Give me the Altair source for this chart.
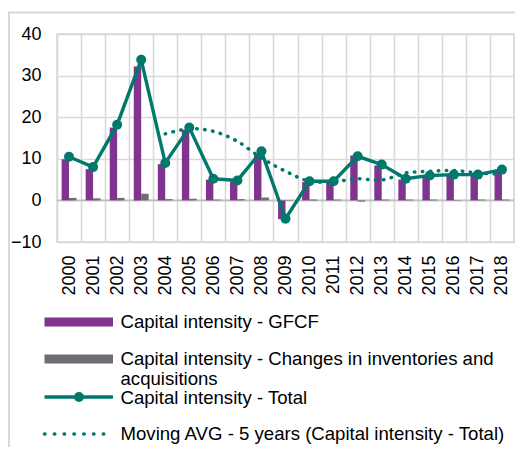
import altair as alt
import pandas as pd

years = ["2000", "2001", "2002", "2003", "2004", "2005", "2006", "2007", "2008", "2009",
         "2010", "2011", "2012", "2013", "2014", "2015", "2016", "2017", "2018"]
gfcf = [9.9, 7.5, 17.5, 32.2, 8.7, 17.0, 5.0, 4.5, 11.1, -4.5,
        4.4, 4.4, 10.8, 8.4, 5.0, 5.8, 6.2, 6.0, 7.2]
changes = [0.6, 0.5, 0.6, 1.6, 0.3, 0.4, 0.2, 0.3, 0.7, 0.1,
           0.2, 0.2, -0.3, 0.2, 0.2, 0.2, -0.1, 0.2, 0.2]
total = [10.5, 8.0, 18.2, 33.8, 9.0, 17.5, 5.2, 4.8, 11.8, -4.4,
         4.6, 4.6, 10.6, 8.6, 5.2, 6.0, 6.2, 6.2, 7.4]
ma_years = ["2004", "2005", "2006", "2007", "2008", "2009", "2010", "2011",
            "2012", "2013", "2014", "2015", "2016", "2017", "2018"]
ma_values = [16.0, 17.2, 16.6, 14.2, 10.2, 7.0, 4.6, 4.5, 5.2, 4.9, 6.6, 7.0, 7.2, 6.6, 6.3]

series_names = [
    "Capital intensity - GFCF",
    "Capital intensity - Changes in inventories and acquisitions",
    "Capital intensity - Total",
    "Moving AVG - 5 years (Capital intensity - Total)",
]
legend_lines = [
    "Capital intensity - GFCF",
    "Capital intensity - Changes in inventories and",
    "acquisitions",
    "Capital intensity - Total",
    "Moving AVG - 5 years (Capital intensity - Total)",
]
y_ticks = [-10, 0, 10, 20, 30, 40]

PURPLE = "#7F3590"
GRAY = "#6E6E72"
TEAL = "#00796C"
GRID = "#D9D9D9"
FONT = "Liberation Sans"

bar_df = pd.DataFrame({
    "year": years * 2,
    "series": [series_names[0]] * len(years) + [series_names[1]] * len(years),
    "value": gfcf + changes,
})
total_df = pd.DataFrame({"year": years, "value": total})
ma_df = pd.DataFrame({"year": ma_years, "value": ma_values})
one = pd.DataFrame({"k": [0]})

X = alt.X(
    "year:N", sort=years,
    scale=alt.Scale(paddingInner=0, paddingOuter=0),
    axis=alt.Axis(title=None, labelAngle=270, labelPadding=13, domain=False, ticks=False,
                  tickBand="extent", grid=True, gridColor=GRID, gridWidth=1.6,
                  labelFont=FONT, labelFontSize=18, labelColor="#000"),
)
Y = alt.Y(
    "value:Q",
    scale=alt.Scale(domain=[-10, 40], nice=False, zero=False),
    axis=alt.Axis(title=None, values=y_ticks, domain=False, ticks=False, tickSize=0,
                  labelPadding=16, grid=True, gridColor=GRID, gridWidth=1.6,
                  labelFont=FONT, labelFontSize=18, labelColor="#000"),
)

bars = alt.Chart(bar_df).mark_bar().encode(
    x=X,
    xOffset=alt.XOffset("series:N", sort=series_names[:2],
                        scale=alt.Scale(domain=series_names[:2], paddingInner=0, paddingOuter=0.62)),
    y=Y,
    color=alt.Color("series:N", scale=alt.Scale(domain=series_names[:2], range=[PURPLE, GRAY]),
                    legend=None),
)

zero = alt.Chart(one).mark_rule(color="#BFBFBF", strokeWidth=1.6).encode(y=alt.datum(0))

ma_line = alt.Chart(ma_df).mark_line(
    color=TEAL, strokeWidth=3.5, strokeDash=[0.5, 7.5], strokeCap="round",
    interpolate="cardinal", tension=0,
).encode(x=X, y=Y)

total_line = alt.Chart(total_df).mark_line(color=TEAL, strokeWidth=3.4).encode(x=X, y=Y)
total_pts = alt.Chart(total_df).mark_point(
    filled=True, color=TEAL, size=100, opacity=1
).encode(x=X, y=Y)

# chart-area border (top and left edges)
border_top = alt.Chart(one).mark_rule(color=GRID, strokeWidth=2).encode(
    x=alt.value(-49), x2=alt.value(470), y=alt.value(-21.5))
border_left = alt.Chart(one).mark_rule(color=GRID, strokeWidth=2).encode(
    x=alt.value(-48), y=alt.value(-21.5), y2=alt.value(420))

# legend
LX0, LX1 = -12.5, 56

def sym_rule(y, color, width, dash=None):
    kw = dict(color=color, strokeWidth=width, strokeCap="butt")
    if dash:
        kw.update(strokeDash=dash, strokeCap="round")
    return alt.Chart(one).mark_rule(**kw).encode(
        x=alt.value(LX0), x2=alt.value(LX1), y=alt.value(y))

def label(i, y):
    df = pd.DataFrame({"t": [legend_lines[i]]})
    return alt.Chart(df).mark_text(
        align="left", baseline="middle", font=FONT, fontSize=18.6, color="#000"
    ).encode(x=alt.value(63.5), y=alt.value(y), text="t:N")

leg_pt = alt.Chart(one).mark_point(filled=True, color=TEAL, size=100, opacity=1).encode(
    x=alt.value(22), y=alt.value(363))

legend_layers = [
    sym_rule(288, PURPLE, 9),
    sym_rule(325, GRAY, 9),
    sym_rule(363, TEAL, 3.4),
    leg_pt,
    sym_rule(400, TEAL, 3.5, dash=[0.5, 9.3]),
    label(0, 288), label(1, 325), label(2, 345), label(3, 364), label(4, 400),
]

chart = alt.layer(
    border_top, border_left, zero, bars, ma_line, total_line, total_pts, *legend_layers
).properties(
    width=457, height=208,
    padding={"left": 49, "top": 26, "right": 1, "bottom": 205},
    autosize=alt.AutoSizeParams(type="none"),
).configure_view(stroke=GRID, strokeWidth=1.6)

chart.save("out.html", embed_options={"renderer": "svg", "actions": False})
